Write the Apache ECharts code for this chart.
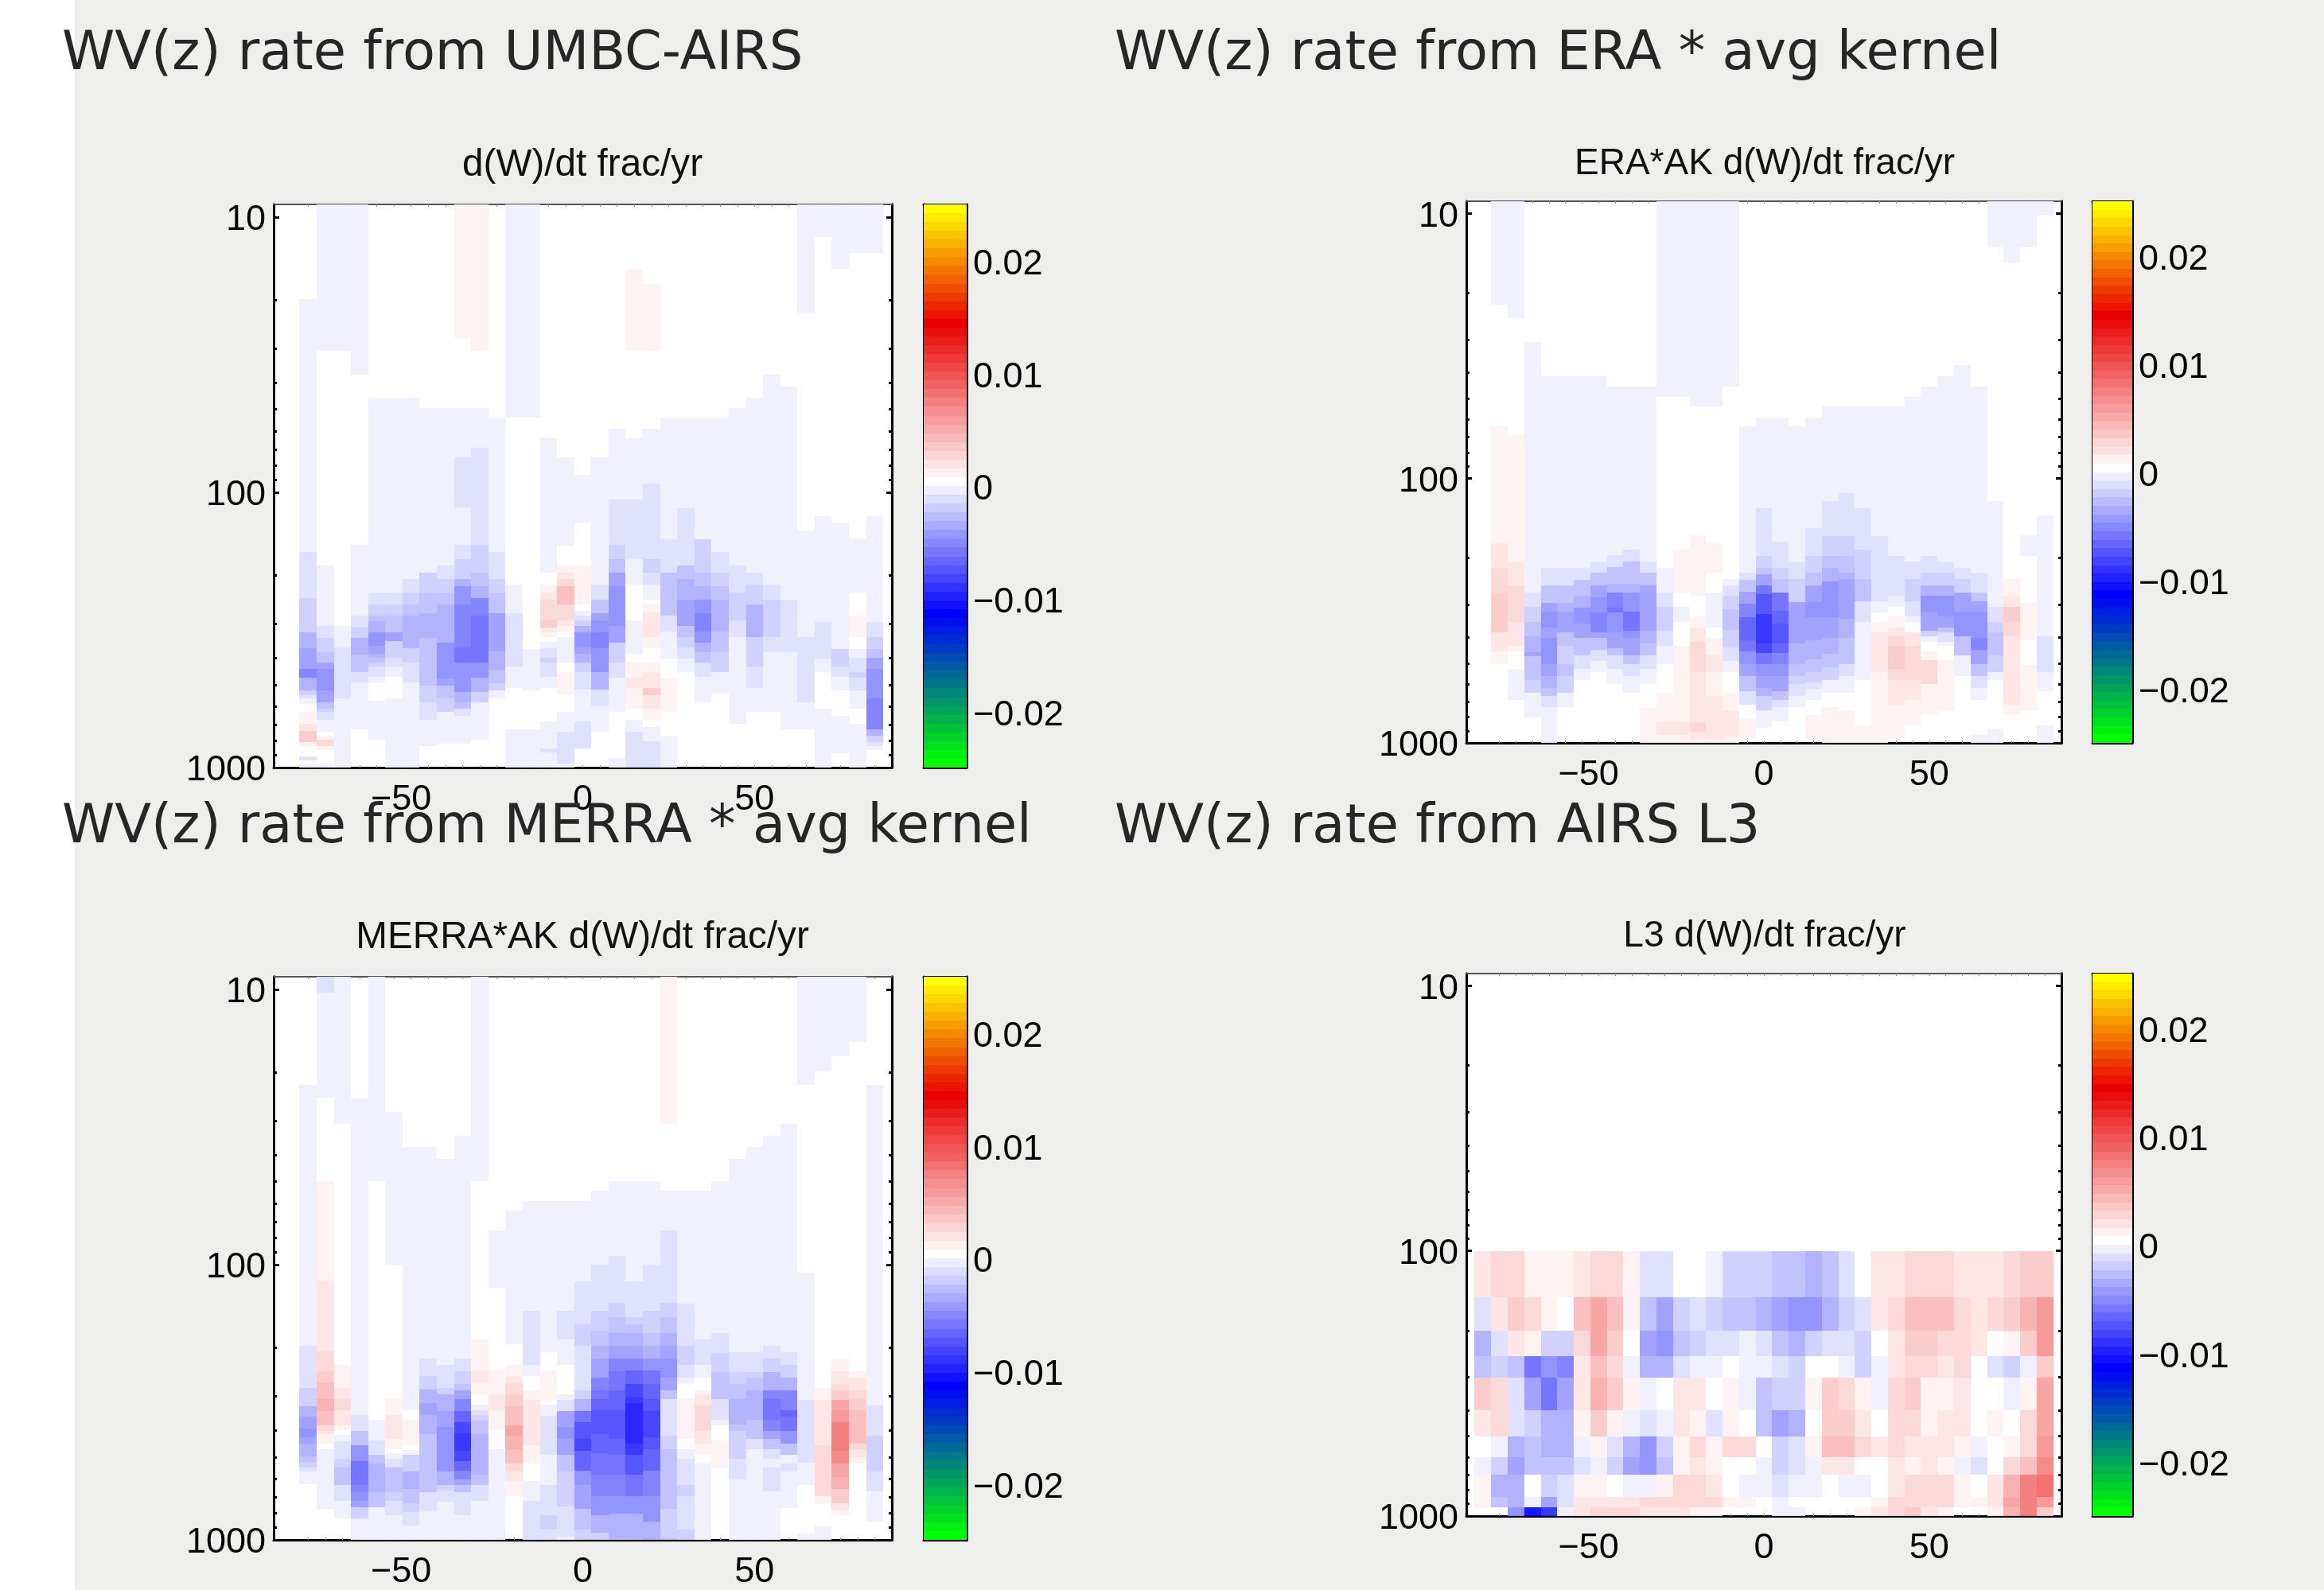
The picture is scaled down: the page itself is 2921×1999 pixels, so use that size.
<!DOCTYPE html>
<html><head><meta charset="utf-8">
<style>html,body{margin:0;padding:0;background:#fff}#c{width:2921px;height:1999px}</style>
<script src="https://cdn.jsdelivr.net/npm/echarts@6/dist/echarts.min.js"></script>
</head><body><div id="c"></div>
<script>
// Values are d(W)/dt in units of 1e-4 frac/yr. Each column is a top-down profile:
// [pressure where the run ends, value, pressure where the next run ends, value, ...]
const lats34 = [-80,-75,-70,-65,-60,-55,-50,-45,-40,-35,-30,-25,-20,-15,-10,-5,0,5,10,15,20,25,30,35,40,45,50,55,60,65,70,75,80,85];
const lats35 = [-85].concat(lats34);
const l3Edges = [100,150,200,250,300,400,500,600,700,850,925,1000];
const titles = ['WV(z) rate from UMBC-AIRS','WV(z) rate from ERA * avg kernel','WV(z) rate from MERRA * avg kernel','WV(z) rate from AIRS L3'];
const subtitles = ['d(W)/dt frac/yr','ERA*AK d(W)/dt frac/yr','MERRA*AK d(W)/dt frac/yr','L3 d(W)/dt frac/yr'];
const latLabels = [-50,0,50];
const latTicks = [-80,-75,-70,-65,-60,-55,-50,-45,-40,-35,-30,-25,-20,-15,-10,-5,0,5,10,15,20,25,30,35,40,45,50,55,60,65,70,75,80,85];
const pMajor = [10,100,1000];
const pMinor = [20,30,40,50,60,70,80,90,200,300,400,500,600,700,800,900];
const cbTicks = [-0.02,-0.01,0,0.01,0.02];

const umbc = [
[19.8,0,165,-4,242,-12,323,-20,369,-35,416,-43,437,-43,470,-59,525,-35,545,-20,562,-12,586,-4,628,0,693,12,735,20,810,35,835,12,910,0,945,-12,965,0,1000,-4],
[30.6,-4,185,0,306,-4,337,-12,382,-20,416,-27,437,-43,470,-51,525,-51,580,-43,610,-27,628,-20,672,-12,741,-4,768,0,793,12,835,27,865,12,965,0,1000,-4],
[30.6,-4,306,0,367,-4,562,-12,1000,-4],
[37.3,-4,155,0,280,-4,311,-12,337,-20,389,-35,416,-27,450,-27,490,-12,725,-4,1000,0],
[45.3,0,232,-4,256,-12,280,-20,294,-27,323,-35,361,-51,387,-43,398,-35,416,-27,430,-20,467,-12,490,-4,570,0,790,-4,1000,0],
[45.3,0,232,-4,256,-12,280,-20,323,-27,348,-43,398,-20,430,-12,467,-4,562,0,1000,-4],
[45.3,0,207,-4,232,-12,256,-20,280,-27,369,-35,416,-20,490,-12,1000,-4],
[49.3,0,196,-4,232,-20,275,-27,337,-35,416,-27,503,-27,580,-20,672,-12,835,-4,1000,0],
[49.3,0,185,-4,207,-12,232,-20,256,-27,353,-35,476,-51,503,-43,562,-27,628,-20,818,-4,1000,0],
[27.6,12,49.3,0,74.5,-4,113.9,-12,155,-4,175,-12,207,-20,219,-35,256,-51,365,-59,416,-66,531,-51,580,-35,610,-27,650,-12,818,-4,1000,0],
[30.6,12,49.3,0,68.9,-4,155,-12,196,-20,219,-27,242,-35,280,-59,416,-66,470,-51,531,-35,580,-20,790,-4,1000,0],
[53.7,0,165,-4,207,-12,232,-20,275,-27,378,-43,445,-35,495,-27,525,-20,562,-4,1000,0],
[53.7,-4,217,0,275,-4,430,-12,513,-4,725,0,1000,-4],
[53.7,-4,370,0,525,-4,725,0,1000,-4],
[63.6,0,196,-4,217,0,232,12,245,20,290,27,311,35,323,20,335,12,350,0,369,-4,398,-12,416,-20,467,-12,513,-4,678,0,855,-4,880,-12,1000,-4],
[74.5,0,156,-4,185,0,196,12,207,20,219,27,256,43,275,27,292,27,305,20,320,12,335,0,416,-4,450,0,546,12,628,0,741,-4,965,-12,1000,-4],
[86.6,0,129,-4,185,0,255,12,270,0,280,-4,292,-12,305,-20,323,-35,365,-51,387,-43,416,-35,450,-20,520,-12,610,-4,678,-4,855,-12,1000,0],
[74.5,0,217,-4,245,-12,275,-27,292,-43,323,-51,369,-59,450,-51,520,-35,600,-12,741,-4,1000,0],
[58.6,0,106,-4,155,-12,175,-20,196,-27,219,-43,306,-51,351,-43,416,-20,470,-12,628,-4,925,0,1000,-4],
[15.4,0,30.6,12,63.6,0,106,-4,175,-12,217,-4,292,0,386,-4,416,0,470,12,513,20,610,12,672,0,741,-4,1000,-12],
[17.5,0,30.6,12,58.6,0,93,-4,175,-12,196,-20,217,-12,245,-4,255,0,273,12,335,20,369,12,416,0,450,12,513,20,545,35,610,20,672,12,712,0,805,-4,1000,-12],
[53.7,0,148,-4,196,-12,245,-27,280,-27,321,-12,403,-4,476,0,628,12,768,0,1000,-4],
[53.7,0,114,-4,185,-12,207,-27,245,-35,306,-43,335,-27,365,-20,403,-12,450,-4,1000,0],
[53.7,0,148,-4,196,-20,219,-27,245,-35,275,-51,321,-59,351,-51,382,-35,416,-27,467,-12,580,-4,1000,0],
[53.7,0,165,-4,196,-12,219,-20,245,-27,321,-35,382,-27,450,-20,540,-4,1000,0],
[49.3,0,185,-4,232,-12,292,-20,335,-12,692,-4,1000,0],
[45.3,0,196,-4,217,-12,255,-20,335,-35,430,-20,513,-12,628,-4,1000,0],
[37.3,0,217,-4,245,-12,335,-20,382,-12,628,-4,1000,0],
[41.4,0,245,-4,382,-12,725,-4,1000,0],
[22.2,-4,138,0,335,-4,580,-12,725,-4,1000,0],
[11.8,-4,122,0,295,-4,403,-12,450,-4,610,0,1000,-4],
[15.4,-4,129,0,370,-4,430,-20,467,-12,525,-4,650,0,885,-4,1000,0],
[13.5,-4,147,0,232,-4,281,0,335,12,370,0,398,-4,450,-12,470,-20,525,-12,610,-4,692,0,1000,-4],
[13.5,-4,122,0,295,-4,335,-12,370,-20,398,-27,437,-43,562,-51,725,-59,768,-35,810,-20,835,-12,865,-4,1000,0]
];

const era = [
[22.1,-4,63.6,0,176,12,219,20,270,27,382,35,431,20,452,20,505,12,1000,0],
[24.8,-4,68.9,0,206,12,254,20,350,27,431,20,452,12,524,0,690,-4,1000,0],
[30.7,0,270,-4,306,-12,350,-20,397,-27,455,-35,470,-43,581,-27,645,-20,803,-4,1000,0],
[41.1,0,219,-4,254,-12,295,-27,320,-43,367,-51,402,-43,505,-51,560,-43,620,-35,665,-27,733,-12,1000,-4],
[41.1,0,219,-4,254,-12,295,-27,320,-35,382,-43,431,-27,505,-20,560,-27,645,-20,733,-4,1000,0],
[41.1,0,219,-4,242,-12,278,-27,309,-35,355,-51,402,-43,468,-27,524,-12,581,-4,1000,0],
[41.1,0,206,-4,228,-12,254,-27,282,-43,322,-51,382,-59,402,-43,445,-27,489,-12,542,-4,1000,0],
[45.1,0,195,-4,217,-12,250,-27,270,-35,309,-59,322,-66,382,-51,440,-43,468,-27,524,-12,598,-4,1000,0],
[45.1,0,186,-4,206,-12,250,-27,270,-35,320,-51,378,-66,402,-51,468,-43,505,-27,560,-12,648,-4,1000,0],
[45.1,0,206,-4,228,-12,254,-27,378,-43,420,-35,468,-27,524,-12,598,-4,736,0,1000,12],
[49.3,-4,218,0,270,-4,306,-12,378,-20,431,-12,505,-4,648,0,833,12,935,20,1000,12],
[49.3,-4,186,0,270,12,307,0,350,-4,431,0,833,12,935,20,1000,12],
[53.6,-4,164,0,278,12,334,0,367,12,415,20,541,27,833,20,908,27,963,20,1000,12],
[53.6,-4,176,0,228,12,270,0,367,-4,400,0,468,12,541,20,665,12,963,20,1000,12],
[45.1,-4,240,0,254,-4,278,-12,313,-20,375,-27,436,-20,489,-12,541,-4,648,0,760,12,945,20,1000,12],
[63.6,0,228,-4,242,-12,268,-27,298,-43,335,-59,411,-74,452,-66,505,-51,560,-43,640,-27,715,-12,810,0,960,12,1000,0],
[59,0,130,-4,197,-12,219,-20,231,-27,254,-43,275,-66,327,-82,421,-98,457,-90,505,-66,560,-51,622,-43,665,-35,755,-20,878,-4,1000,0],
[59,0,174,-4,219,-12,240,-20,270,-27,318,-66,355,-74,421,-82,457,-74,505,-59,560,-51,640,-43,690,-27,733,-12,825,-4,1000,0],
[63.6,0,206,-4,240,-12,293,-20,358,-43,421,-43,505,-35,560,-27,600,-20,665,-12,733,-4,1000,0],
[59,0,155,-4,197,-12,228,-20,254,-27,293,-43,335,-51,411,-43,484,-35,541,-27,590,-20,625,-12,690,-4,787,0,960,12,1000,0],
[53.6,0,122,-4,166,-12,197,-20,219,-27,246,-35,335,-51,400,-43,462,-35,518,-27,580,-20,648,-4,730,0,1000,12],
[53.6,0,113.6,-4,166,-12,197,-20,228,-27,240,-35,340,-43,400,-35,505,-27,560,-12,648,-4,760,0,1000,12],
[53.6,0,130,-4,186,-12,240,-20,292,-27,350,-12,581,-4,860,0,1000,12],
[53.6,0,166,-4,292,-12,322,-4,350,0,382,12,541,20,1000,12],
[53.6,0,197,-4,278,-12,306,-4,334,0,367,12,397,20,431,27,524,35,581,27,717,20,960,12,1000,0],
[49.3,0,206,-4,240,-12,292,-20,334,-12,350,-4,382,0,431,20,581,27,690,20,860,12,1000,0],
[45.1,0,197,-4,228,-12,254,-20,278,-35,320,-51,378,-43,397,-20,415,-4,452,0,487,12,600,27,778,12,1000,0],
[41.1,0,206,-4,228,-12,254,-20,278,-35,334,-51,367,-43,382,-27,415,-12,431,-4,487,0,760,12,1000,0],
[37.3,0,218,-4,240,-12,270,-20,320,-43,397,-51,468,-27,560,-4,1000,0],
[45.1,0,228,-4,270,-12,292,-27,320,-43,402,-51,445,-59,505,-43,560,-27,620,-12,690,-4,935,0,1000,-4],
[13.4,-4,122,0,306,-4,350,-12,382,-20,468,-27,541,-20,581,-4,885,0,1000,-4],
[15.4,-4,240,0,278,12,306,20,350,35,397,27,717,20,780,12,1000,0],
[13.4,-4,164,0,197,-4,293,0,411,12,508,0,760,12,1000,0],
[10.2,-4,138,0,397,-4,541,-12,640,-4,860,0,1000,-4]
];

const merra = [
[22.2,0,197,-4,281,-12,326,-20,356,-35,395,-43,424,-51,448,-43,496,-35,523,-27,547,-20,565,-12,627,-4,1000,0],
[10.3,-12,24.7,-4,49.6,0,114.6,12,206,20,244,27,268,35,308,43,340,51,384,43,401,27,414,20,448,12,468,0,770,-4,1000,0],
[30.8,-4,231,0,281,12,308,20,337,27,384,20,399,12,416,0,437,-4,506,-12,547,-20,630,-27,720,-12,835,-4,1000,0],
[24.9,0,352,-4,401,-12,454,-27,518,-51,630,-66,672,-59,720,-51,760,-43,835,-20,1000,-4],
[49.6,-4,367,0,436,-4,490,-12,529,-27,672,-35,760,-27,1000,-4],
[27.9,0,100,-4,308,0,352,12,431,20,468,12,485,0,506,-4,547,-12,672,-27,720,-20,815,-12,1000,-4],
[37.5,0,337,-4,367,0,452,12,472,0,490,-4,565,-20,654,-35,737,-27,790,-20,890,-12,1000,-4],
[37.5,0,219,-4,254,-12,284,-20,318,-35,352,-43,414,-35,496,-27,672,-27,785,-12,1000,-4],
[41.3,0,231,-4,281,-12,296,-20,340,-35,390,-43,496,-51,565,-51,630,-35,660,-20,725,-12,1000,-4],
[34,0,219,-4,244,-12,271,-20,286,-27,309,-43,340,-59,373,-74,410,-90,474,-98,518,-90,559,-74,605,-59,630,-43,672,-27,815,-12,1000,-4],
[49.6,-4,187,0,243,12,270,20,296,12,322,0,338,-4,352,-12,369,-20,414,-27,581,-35,630,-27,720,-12,1000,-4],
[75,0,121,-4,243,0,296,12,337,20,399,12,468,0,1000,-4],
[63.7,0,195,-4,231,0,254,12,269,20,296,27,326,35,384,43,419,59,468,51,529,43,565,27,610,20,695,12,1000,0],
[58.7,0,147,-4,231,-12,254,-4,286,0,311,12,454,20,529,12,610,0,723,-4,1000,-12],
[58.7,0,208,-4,244,0,311,12,322,0,354,-4,490,-12,630,-4,815,-12,919,-20,1000,-12],
[58.7,0,147,-4,187,-12,231,-4,296,0,311,-4,340,-12,390,-43,431,-51,490,-43,565,-27,755,-20,971,-12,1000,-4],
[58.7,0,115,-4,165,-12,197,-20,286,-12,309,-20,340,-35,373,-66,431,-82,474,-90,559,-74,630,-51,770,-43,919,-27,1000,-20],
[54,0,100,-4,147,-12,174,-20,197,-27,220,-35,257,-43,286,-59,309,-66,337,-74,414,-82,485,-74,578,-66,695,-59,815,-51,940,-35,1000,-20],
[49.6,0,93,-4,138,-12,155,-20,177,-27,197,-35,220,-43,244,-59,286,-66,337,-74,431,-82,490,-74,578,-66,695,-59,805,-51,985,-35,1000,-27],
[49.6,0,115,-4,155,-12,165,-20,177,-27,197,-35,220,-43,242,-59,271,-74,304,-90,318,-98,448,-105,490,-98,578,-82,695,-66,805,-51,985,-35,1000,-27],
[49.6,0,100,-4,147,-12,177,-20,197,-27,220,-35,242,-51,271,-66,308,-74,340,-82,424,-90,468,-82,559,-74,695,-59,860,-51,1000,-35],
[30.8,12,54,0,75,-4,138,-12,155,-20,177,-27,197,-35,220,-43,257,-51,286,-43,309,-27,419,-12,468,-20,770,-27,985,-20,1000,-27],
[54,0,139,-4,197,-12,231,-20,257,-12,271,-4,309,0,431,12,468,0,506,-4,630,-12,695,-20,919,-12,1000,-20],
[54,0,187,-4,231,-12,257,-4,286,0,296,12,325,20,401,27,448,20,490,12,529,0,1000,-4],
[49.6,0,177,-4,210,-12,246,-20,308,-27,367,-12,384,-4,436,0,547,12,1000,0],
[41.3,0,208,-4,246,-12,272,-20,308,-27,380,-35,401,-27,506,-20,605,-12,1000,-4],
[37.5,0,208,-4,246,-12,257,-20,286,-27,367,-35,431,-27,468,-12,1000,-4],
[34,0,197,-4,220,-12,246,-20,286,-35,309,-59,367,-66,401,-59,431,-43,468,-27,506,-12,547,-4,665,-12,1000,-4],
[30.8,0,208,-4,231,-12,257,-20,286,-35,337,-59,356,-74,401,-66,448,-51,490,-27,529,-4,565,-12,765,-4,1000,0],
[22.2,-4,107,0,311,-4,525,-12,630,-4,950,0,1000,-4],
[19.8,-4,280,0,311,12,454,20,695,27,740,12,895,0,1000,-4],
[17.5,-4,219,0,244,12,271,20,286,27,311,35,337,59,373,66,474,82,529,74,591,59,654,51,737,35,780,20,815,12,1000,0],
[15.5,-4,244,0,257,12,286,20,309,27,337,35,448,43,468,27,501,20,529,12,1000,0],
[22.2,0,325,-4,419,-12,565,-20,665,-12,860,-4,1000,0]
];

// AIRS L3: one row per standard layer, one value per latitude bin (rows run top to bottom).
const l3_100_150 = [20,27,27,12,12,12,20,27,27,12,-12,-12,0,0,-4,-20,-20,-20,-27,-27,-35,-27,-12,0,20,20,27,27,27,20,20,20,27,35,35];
const l3_150_200 = [-12,20,35,27,12,0,43,59,43,12,-27,-43,-20,-12,-20,-27,-27,-35,-43,-51,-51,-35,-20,-12,20,27,43,43,43,27,20,27,35,51,66];
const l3_200_250 = [-35,-12,20,12,-20,-20,27,59,35,0,-43,-51,-27,-20,-12,-12,-4,-12,-27,-35,-20,-12,-12,-20,0,20,35,35,27,27,20,0,12,35,66];
const l3_250_300 = [-27,-20,-27,-66,-51,-59,20,43,27,-4,-35,-35,-12,-4,-4,0,-4,-4,-12,-20,0,0,-4,-20,-4,20,27,27,20,27,0,-12,-20,-4,35];
const l3_300_400 = [35,27,-12,-43,-66,-43,20,51,35,12,-4,0,20,20,0,12,-4,-27,-20,-20,12,35,27,12,-4,27,35,12,12,20,0,0,-4,12,59];
const l3_400_500 = [20,27,-12,-20,-35,-35,12,35,12,-4,-12,-4,20,12,-12,12,0,-27,-43,-35,0,35,35,20,0,27,27,12,20,20,0,12,0,27,59];
const l3_500_600 = [0,-4,-35,-27,-35,-35,-4,12,-12,-35,-51,-20,12,27,12,27,27,0,-20,-12,12,43,43,27,20,27,20,20,20,12,-4,0,12,27,66];
const l3_600_700 = [-4,-20,-43,-27,-27,-27,-12,-4,-20,-43,-51,-27,12,20,12,0,0,-4,-20,-12,-4,20,20,0,0,20,12,20,12,-4,-12,0,27,43,74];
const l3_700_850 = [12,-35,-35,0,-20,-12,12,12,0,-4,-4,12,27,27,20,0,-4,-4,-12,-4,-4,0,-4,-4,0,20,27,27,27,12,0,20,51,82,90];
const l3_850_925 = [12,-27,-35,-4,-43,-12,20,20,20,20,27,27,27,27,27,12,12,0,-4,0,0,0,0,0,12,27,27,27,27,12,12,20,59,82,66];
const l3_925_1000 = [0,0,-51,-113,-98,-4,20,27,27,27,20,20,20,12,12,0,0,0,-4,-4,0,0,0,12,20,27,35,20,12,0,0,12,51,82,35];
const l3Rows = [l3_100_150,l3_150_200,l3_200_250,l3_250_300,l3_300_400,l3_400_500,l3_500_600,l3_600_700,l3_700_850,l3_850_925,l3_925_1000];

// colour map: 64 bands between -0.025 and 0.025, defined by its anchor colours
const cmapStops = [[0,[255,255,0]],[13,[232,0,0]],[31,[255,255,255]],[32,[238,238,255]],[46,[0,0,255]],[63,[0,255,0]]];
const colormap = [];
for (let k=0;k<64;k++){
  let j=0; while(j<cmapStops.length-2 && k>cmapStops[j+1][0]) j++;
  const a=cmapStops[j],b=cmapStops[j+1],t=(k-a[0])/(b[0]-a[0]);
  colormap.push('rgb('+a[1].map((c,i)=>Math.round(c+(b[1][i]-c)*t)).join(',')+')');
}
const bandColor = v => colormap[Math.min(63,Math.max(0,Math.floor((0.025-v*1e-4)/0.05*64)))];

const FONT='"Liberation Sans"', LABEL=45, HALF=2.5, PTOP=9, PBOT=1000;
const panels = [
 {g:[344,257,777,708], b:[1161,257,54,708], t:[78,36], s:[732,184], fs:47.7},
 {g:[1843,253,748,681], b:[2630,253,50,681], t:[1401,36], s:[2218,183], fs:46},
 {g:[344,1228,777,708], b:[1161,1228,54,708], t:[78,1008], s:[732,1155], fs:47.7},
 {g:[1843,1224,748,682], b:[2630,1224,50,682], t:[1401,1008], s:[2218,1154], fs:46}
];

function profileItems(lats,cols){
  const out=[];
  cols.forEach((c,i)=>{ let top=PTOP;
    for(let j=0;j<c.length;j+=2){ if(c[j+1]!==0) out.push([lats[i],top,c[j],c[j+1]]); top=c[j]; } });
  return out;
}
function rowItems(lats,edges,rows){
  const out=[];
  rows.forEach((r,ri)=>r.forEach((v,i)=>{ if(v!==0) out.push([lats[i],edges[ri],edges[ri+1],v]); }));
  return out;
}
const datasets=[profileItems(lats34,umbc),profileItems(lats34,era),profileItems(lats34,merra),rowItems(lats35,l3Edges,l3Rows)];

const renderCell=(params,api)=>{
  const lon=api.value(0),a=api.coord([lon-HALF,api.value(1)]),b=api.coord([lon+HALF,api.value(2)]);
  const x=Math.round(a[0]),y=Math.round(a[1]);
  return {type:'rect',shape:{x,y,width:Math.round(b[0])-x,height:Math.round(b[1])-y},style:{fill:bandColor(api.value(3)),opacity:0.9}};
};
const renderBand=(params,api)=>{
  const a=api.coord([0,api.value(1)]),b=api.coord([1,api.value(0)]);
  const y=Math.round(a[1]);
  return {type:'rect',shape:{x:a[0],y,width:b[0]-a[0],height:Math.round(b[1])-y},style:{fill:colormap[api.value(2)]}};
};
const bands=colormap.map((c,k)=>[0.025-(k+1)*0.05/64,0.025-k*0.05/64,k]);

const line=(w,c)=>({show:true,onZero:false,lineStyle:{color:c||'#000',width:w}});
const opt={animation:false,backgroundColor:'transparent',
 graphic:[{type:'rect',z:-10,silent:true,shape:{x:94,y:0,width:2827,height:1999},style:{fill:'#eeeeed'}}],
 title:[],grid:[],xAxis:[],yAxis:[],series:[]};

panels.forEach((p,i)=>{
  opt.title.push({text:titles[i],left:p.t[0],top:p.t[1],z:20,padding:0,textStyle:{fontFamily:'"DejaVu Sans"',fontWeight:'normal',fontSize:67,color:'#262626'}});
  opt.title.push({text:subtitles[i],left:p.s[0],top:p.s[1],textAlign:'center',padding:0,textStyle:{fontFamily:FONT,fontWeight:'normal',fontSize:p.fs,color:'#111'}});
  const gi=opt.grid.length;
  opt.grid.push({left:p.g[0],top:p.g[1],width:p.g[2],height:p.g[3],show:true,backgroundColor:'#fff',borderWidth:0});
  const x0=opt.xAxis.length,y0=opt.yAxis.length;
  const xBase={type:'value',gridIndex:gi,min:-90,max:90,splitLine:{show:false}};
  opt.xAxis.push({...xBase,position:'bottom',axisLine:line(3),
    axisTick:{show:true,inside:true,length:3,customValues:latTicks,lineStyle:{color:'#999',width:1}},
    axisLabel:{show:true,customValues:latLabels,margin:18,fontFamily:FONT,fontSize:LABEL,color:'#000',formatter:v=>v<0?String(v).replace('-','\u2212')+'\u00a0\u00a0':String(v)}});
  opt.xAxis.push({...xBase,position:'top',axisLine:line(2,'#555'),
    axisTick:{show:true,inside:true,length:3,customValues:latTicks,lineStyle:{color:'#999',width:1}},axisLabel:{show:false}});
  const yBase={type:'log',logBase:10,gridIndex:gi,min:PTOP,max:PBOT,inverse:true,splitLine:{show:false},minorTick:{show:false}};
  const yAx=(pos,vals,len,lab)=>({...yBase,position:pos,axisLine:line(3),
    axisTick:{show:true,inside:true,length:len,customValues:vals,lineStyle:{color:'#000',width:3}},
    axisLabel:lab?{show:true,customValues:pMajor,margin:10,verticalAlign:'top',lineHeight:8,fontFamily:FONT,fontSize:LABEL,color:'#000',formatter:v=>String(Math.round(v))}:{show:false}});
  opt.yAxis.push(yAx('left',pMajor,7,true),yAx('left',pMinor,4,false),yAx('right',pMajor,7,false),yAx('right',pMinor,4,false));
  opt.series.push({type:'custom',xAxisIndex:x0,yAxisIndex:y0,data:datasets[i],renderItem:renderCell,progressive:0,silent:true,encode:{x:0,y:[1,2]},z:2});

  const gb=opt.grid.length;
  opt.grid.push({left:p.b[0],top:p.b[1],width:p.b[2],height:p.b[3],show:false});
  const xb=opt.xAxis.length,yb=opt.yAxis.length;
  const bx={type:'value',gridIndex:gb,min:0,max:1,splitLine:{show:false},axisTick:{show:false},axisLabel:{show:false},axisLine:line(3)};
  opt.xAxis.push({...bx,position:'bottom'},{...bx,position:'top'});
  const by={type:'value',gridIndex:gb,min:-0.025,max:0.025,splitLine:{show:false},axisLine:line(3)};
  opt.yAxis.push({...by,position:'left',axisTick:{show:true,inside:true,length:7,customValues:cbTicks,lineStyle:{color:'#000',width:3}},axisLabel:{show:false}});
  opt.yAxis.push({...by,position:'right',axisTick:{show:true,inside:true,length:7,customValues:cbTicks,lineStyle:{color:'#000',width:3}},
    axisLabel:{show:true,customValues:cbTicks,margin:8,verticalAlign:'top',lineHeight:10,fontFamily:FONT,fontSize:LABEL,color:'#000',formatter:v=>(+v===0?'0':(+v).toFixed(2).replace('-','\u2212'))}});
  opt.series.push({type:'custom',xAxisIndex:xb,yAxisIndex:yb,data:bands,renderItem:renderBand,progressive:0,silent:true,z:2});
});
echarts.init(document.getElementById('c'),null,{renderer:'canvas'}).setOption(opt);
</script></body></html>
